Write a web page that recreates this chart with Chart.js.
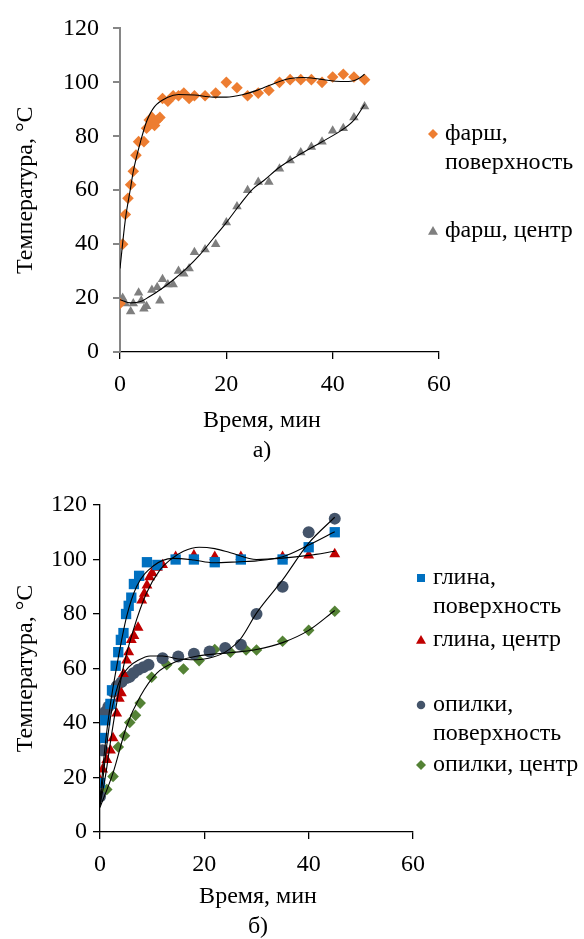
<!DOCTYPE html>
<html>
<head>
<meta charset="utf-8">
<script src="https://cdn.jsdelivr.net/npm/chart.js@4"></script>
<style>
  html, body { margin: 0; padding: 0; background: #fff; }
  .box { position: absolute; left: 0; }
</style>
</head>
<body>
<div class="box" style="top:0"><canvas id="chartA" width="584" height="470"></canvas></div>
<div class="box" style="top:470px"><canvas id="chartB" width="584" height="469"></canvas></div>
<script>
// а) фарш
const mincePlaneT = [0, 0.5, 1, 1.5, 2, 2.5, 3, 3.5, 4.5, 5, 5.5, 6, 6.5, 7, 7.5, 8, 9, 10, 11, 12, 13, 14, 16, 18, 20, 22, 24, 26, 28, 30, 32, 34, 36, 38, 40, 42, 44, 46];
const mincePlaneV = [18, 40, 51, 57, 62, 67, 73, 78, 78, 83, 86, 87, 84, 86, 87, 94, 93, 95, 95, 96, 94, 95, 95, 96, 100, 98, 95, 96, 97, 100, 101, 101, 101, 100, 102, 103, 102, 101];
const minceCoreT = [0, 0.5, 1, 2, 2.5, 3.5, 4, 4.5, 5, 6, 7, 7.5, 8, 9, 10, 11, 12, 13, 14, 16, 18, 20, 22, 24, 26, 28, 30, 32, 34, 36, 38, 40, 42, 44, 46];
const minceCoreV = [19, 20, 18, 15, 18, 22, 19, 16, 17, 23, 24, 19, 27, 25, 25, 30, 29, 31, 37, 38, 40, 48, 54, 60, 63, 63, 68, 71, 74, 76, 78, 82, 83, 87, 91];
// линии тренда
const mincePlaneFitT = [0, 1, 2, 2.5, 4, 5, 6.5, 9, 11, 14, 17.5, 20, 23, 26, 30, 32, 34.5, 37.5, 40.5, 43, 45, 46];
const mincePlaneFitV = [31, 49, 61, 67, 79, 85.5, 91, 94.5, 95.5, 95.3, 94.5, 94.5, 95.4, 97.2, 100.3, 101.4, 101.8, 101.2, 100.4, 100.3, 101.5, 103];
const minceCoreFitT = [0, 2, 4, 5.5, 7.5, 10, 12.5, 15, 17.5, 20, 22.5, 25, 27, 30, 34, 38, 41.5, 44, 46];
const minceCoreFitV = [19.4, 18.2, 18.8, 20.5, 23, 26.7, 31, 36, 42, 48, 54.5, 60.5, 63.5, 68.5, 73.5, 78, 82, 86, 91.8];

// б) глина и опилки
const clayPlaneT = [0, 0.5, 1, 2, 2.3, 3, 3.5, 4, 4.5, 5, 5.5, 6, 6.5, 7.5, 9, 11, 14.5, 18, 22, 27, 35, 40, 45];
const clayPlaneV = [18, 34.5, 41, 47, 52, 61, 66, 70.5, 73, 80, 83, 86, 91, 94, 99, 98, 100, 100, 99, 100, 100, 104.5, 110];
const clayCoreT = [0, 0.5, 1.3, 2, 2.5, 3.2, 3.7, 4.1, 4.5, 5.1, 5.5, 6, 6.5, 7.3, 8, 8.5, 9, 9.5, 10, 11, 12, 14.5, 18, 22, 27, 35, 40, 45];
const clayCoreV = [19, 23, 26.5, 30, 34.5, 43.5, 49, 51, 58, 63, 66, 70.5, 72, 75, 85, 87.5, 90.5, 93.5, 95, 97, 98, 101, 101.5, 101, 101, 101, 101.5, 102];
const dustPlaneT = [0, 0.5, 1, 1.6, 2.5, 3.2, 4.1, 5.1, 5.7, 6.4, 7.3, 8.3, 9.3, 12, 15, 18, 21, 24, 27, 30, 35, 40, 45];
const dustPlaneV = [13, 30, 44, 46, 51.5, 53.5, 55, 56.5, 57, 58.3, 59.5, 60.5, 61.4, 63.8, 64.4, 65.4, 66.2, 67.5, 68.7, 80, 90, 110, 115];
const dustCoreT = [0, 1.3, 2.5, 3.5, 4.7, 5.7, 6.8, 7.7, 9.9, 12.8, 16, 19, 22, 25, 28, 30, 35, 40, 45];
const dustCoreV = [13, 15.6, 20.4, 31.2, 35.3, 40.2, 42.8, 47.3, 56.8, 61.4, 59.8, 62.9, 67, 66, 66.8, 66.8, 70, 74, 81];
// линии тренда
const clayPlaneFitT = [0, 1, 2, 3.2, 5.1, 7, 10.2, 14, 18, 21.7, 26.8, 30, 35, 40, 45];
const clayPlaneFitV = [12, 32, 47, 60.7, 79, 90, 97.6, 100.4, 99.8, 98.8, 99.2, 99.5, 101, 105.3, 110.2];
const clayCoreFitT = [0, 1, 2, 3, 4.5, 6.4, 8.9, 11.5, 13.4, 16, 19, 22, 25, 30, 35, 40, 45];
const clayCoreFitV = [10, 20, 33, 45, 60.7, 74.2, 87.6, 96.2, 99.8, 103, 104.5, 104, 102.5, 100, 100.5, 101.5, 103];
const dustPlaneFitT = [0, 1, 2, 3, 4, 5.5, 7.3, 9.6, 12, 15, 18.5, 21.7, 24, 27, 30, 35, 40, 45];
const dustPlaneFitV = [9.5, 27, 42, 51, 56.5, 60.5, 63, 64.6, 64.6, 63.5, 63.2, 64.2, 66, 71, 80.3, 92.5, 106, 115.5];
const dustCoreFitT = [0, 2.5, 5.1, 7.7, 10.9, 14.7, 18.5, 23, 27, 30, 35, 40, 45];
const dustCoreFitV = [9, 21.7, 38.8, 49.7, 58.3, 62.6, 64.5, 65.5, 66.2, 67, 69.5, 74, 81.3];

const xTicks = [0, 20, 40, 60];
const yTicks = [0, 20, 40, 60, 80, 100, 120];

const FONT = '"Liberation Serif", "DejaVu Serif", serif';
const FSIZE = 24;
const pts = (ts, vs) => ts.map((t, i) => ({ x: t, y: vs[i] }));

function markers(label, ts, vs, color, style, radius) {
  return {
    type: 'scatter', label, data: pts(ts, vs), order: 1,
    pointStyle: style, pointRadius: radius, pointBackgroundColor: color,
    pointBorderColor: color, pointBorderWidth: 0, showLine: false
  };
}
function trend(ts, vs) {
  return {
    type: 'line', data: pts(ts, vs), order: 0,
    borderColor: '#000', borderWidth: 1.1, pointRadius: 0,
    cubicInterpolationMode: 'monotone', fill: false
  };
}

// little shapes for the legend, same look as the chart markers
function drawMark(ctx, style, color, x, y, r) {
  ctx.fillStyle = color;
  ctx.beginPath();
  if (style === 'rectRot') {
    ctx.moveTo(x, y - r); ctx.lineTo(x + r, y); ctx.lineTo(x, y + r); ctx.lineTo(x - r, y);
  } else if (style === 'triangle') {
    ctx.moveTo(x, y - r); ctx.lineTo(x + r, y + r * 0.75); ctx.lineTo(x - r, y + r * 0.75);
  } else if (style === 'rect') {
    ctx.rect(x - r * 0.8, y - r * 0.8, r * 1.6, r * 1.6);
  } else {
    ctx.arc(x, y, r * 0.85, 0, Math.PI * 2);
  }
  ctx.closePath();
  ctx.fill();
}

const textPlugin = {
  id: 'texts',
  afterDraw(chart, args, o) {
    const { ctx, chartArea } = chart;
    ctx.save();
    ctx.font = FSIZE + 'px ' + FONT;
    ctx.fillStyle = '#000';
    ctx.textBaseline = 'middle';

    // y axis title
    ctx.save();
    ctx.translate(o.yTitleX, (chartArea.top + chartArea.bottom) / 2);
    ctx.rotate(-Math.PI / 2);
    ctx.textAlign = 'center';
    ctx.fillText('Температура, °C', 0, 0);
    ctx.restore();

    // x axis title + caption
    ctx.textAlign = 'center';
    ctx.fillText('Время, мин', o.xTitleX, o.xTitleY);
    ctx.fillText(o.caption, o.xTitleX, o.xTitleY + 30);

    // legend
    ctx.textAlign = 'left';
    o.legend.forEach(item => {
      const ds = chart.data.datasets[item.ds];
      drawMark(ctx, ds.pointStyle, ds.pointBackgroundColor, o.legendX, item.y, 5);
      ctx.fillStyle = '#000';
      item.lines.forEach((line, k) => ctx.fillText(line, o.legendX + 12, item.y + k * 29));
    });
    ctx.restore();
  }
};

function makeChart(id, datasets, box, o) {
  const canvas = document.getElementById(id);
  return new Chart(canvas.getContext('2d'), {
    data: { datasets },
    plugins: [textPlugin],
    options: {
      responsive: false,
      animation: false,
      events: [],
      layout: {
        padding: { left: 0, top: box.top, right: canvas.width - box.right, bottom: canvas.height - box.bottom - 60 }
      },
      plugins: { legend: { display: false }, tooltip: { enabled: false }, texts: o },
      scales: {
        x: {
          type: 'linear', min: 0, max: 60,
          afterFit: s => { s.height = 60; },
          afterBuildTicks: s => { s.ticks = xTicks.map(v => ({ value: v })); },
          grid: { drawOnChartArea: false, drawTicks: true, tickLength: 7, color: o.xColor, lineWidth: 1.3 },
          border: { color: o.xColor, width: 1.3 },
          ticks: { color: '#000', font: { family: FONT, size: FSIZE }, padding: 11, maxRotation: 0 }
        },
        y: {
          type: 'linear', min: 0, max: 120,
          afterFit: s => { s.width = box.left; },
          afterBuildTicks: s => { s.ticks = yTicks.map(v => ({ value: v })); },
          grid: { drawOnChartArea: false, drawTicks: true, tickLength: 7, color: o.yColor, lineWidth: o.yWidth },
          border: { color: o.yColor, width: o.yWidth },
          ticks: { color: '#000', font: { family: FONT, size: FSIZE }, padding: o.yPad }
        }
      }
    }
  });
}

function drawAll() {
  makeChart('chartA', [
    trend(mincePlaneFitT, mincePlaneFitV),
    trend(minceCoreFitT, minceCoreFitV),
    markers('фарш, поверхность', mincePlaneT, mincePlaneV, '#ED7D31', 'rectRot', 5.8),
    markers('фарш, центр', minceCoreT, minceCoreV, '#7F7F7F', 'triangle', 5.5)
  ], { left: 120, top: 22, right: 439, bottom: 352 }, {
    yTitleX: 26, xTitleX: 262, xTitleY: 421, caption: 'а)',
    xColor: '#000', yColor: '#868686', yWidth: 2, yPad: 14,
    legendX: 433,
    legend: [
      { ds: 2, y: 134, lines: ['фарш,', 'поверхность'] },
      { ds: 3, y: 231, lines: ['фарш, центр'] }
    ]
  });

  makeChart('chartB', [
    trend(clayPlaneFitT, clayPlaneFitV),
    trend(clayCoreFitT, clayCoreFitV),
    trend(dustPlaneFitT, dustPlaneFitV),
    trend(dustCoreFitT, dustCoreFitV),
    markers('глина, поверхность', clayPlaneT, clayPlaneV, '#0070C0', 'rect', 7.3),
    markers('глина, центр', clayCoreT, clayCoreV, '#C00000', 'triangle', 6.3),
    markers('опилки, поверхность', dustPlaneT, dustPlaneV, '#44546A', 'circle', 6),
    markers('опилки, центр', dustCoreT, dustCoreV, '#548235', 'rectRot', 5.8)
  ], { left: 100, top: 35, right: 413, bottom: 362 }, {
    yTitleX: 26, xTitleX: 258, xTitleY: 427, caption: 'б)',
    xColor: '#000', yColor: '#000', yWidth: 1.3, yPad: 6,
    legendX: 421,
    legend: [
      { ds: 4, y: 108, lines: ['глина,', 'поверхность'] },
      { ds: 5, y: 170, lines: ['глина, центр'] },
      { ds: 6, y: 235, lines: ['опилки,', 'поверхность'] },
      { ds: 7, y: 295, lines: ['опилки, центр'] }
    ]
  });
}

if (document.fonts && document.fonts.load) {
  document.fonts.load(FSIZE + 'px "Liberation Serif"').then(drawAll, drawAll);
} else {
  drawAll();
}
</script>
</body>
</html>
